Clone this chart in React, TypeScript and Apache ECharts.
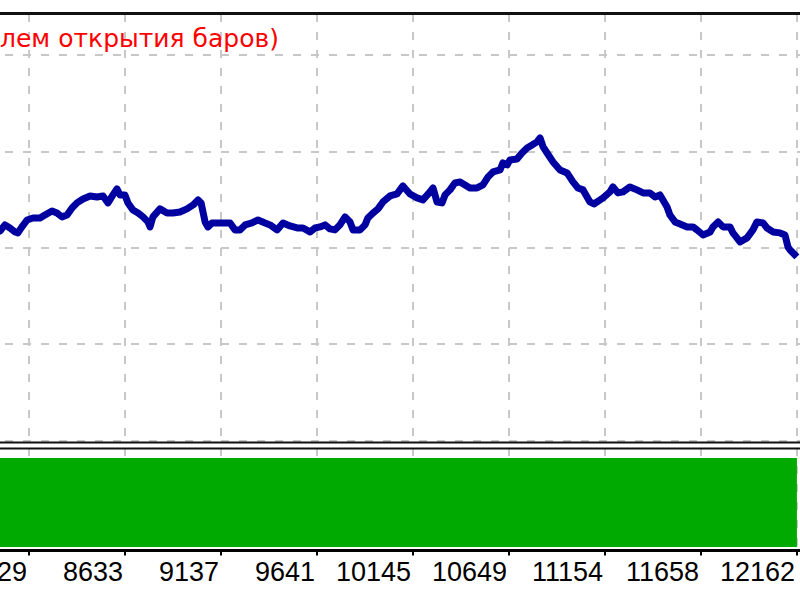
import React, { useEffect, useRef } from 'react';
import * as echarts from 'echarts';

// Trade numbers (x) and balance (y) of the test curve
const trades = [
  7951, 7977, 8003, 8029, 8056, 8071, 8092, 8119, 8150, 8187, 8213, 8250, 8276, 8302, 8329, 8355,
  8381, 8413, 8450, 8486, 8518, 8544, 8570, 8591, 8607, 8633, 8649, 8675, 8702, 8728, 8754, 8765,
  8780, 8817, 8854, 8885, 8922, 8959, 8991, 9017, 9033, 9054, 9069, 9090, 9132, 9185, 9211, 9237,
  9264, 9300, 9332, 9369, 9395, 9432, 9463, 9500, 9537, 9568, 9605, 9631, 9657, 9684, 9710, 9736,
  9762, 9789, 9815, 9831, 9868, 9894, 9909, 9936, 9962, 9988, 10025, 10062, 10093, 10130, 10167, 10198,
  10235, 10251, 10272, 10298, 10314, 10340, 10366, 10393, 10419, 10445, 10482, 10513, 10540, 10566, 10603, 10618,
  10640, 10655, 10692, 10718, 10745, 10771, 10797, 10813, 10829, 10850, 10881, 10918, 10955, 10986, 11012, 11039,
  11075, 11096, 11144, 11180, 11196, 11222, 11249, 11285, 11322, 11354, 11390, 11417, 11443, 11480, 11495, 11522,
  11548, 11585, 11616, 11637, 11669, 11706, 11721, 11748, 11774, 11811, 11826, 11847, 11863, 11900, 11931, 11952,
  11984, 12005, 12036, 12073, 12099, 12115, 12126, 12152, 12162,
];
const balance = [
  6154, 6174, 6237, 6205, 6164, 6154, 6216, 6288, 6309, 6309, 6340, 6382, 6361, 6320, 6340, 6413,
  6465, 6506, 6537, 6527, 6537, 6465, 6548, 6610, 6548, 6548, 6465, 6392, 6361, 6320, 6268, 6216,
  6320, 6403, 6361, 6361, 6371, 6403, 6444, 6496, 6465, 6268, 6216, 6257, 6257, 6257, 6185, 6185,
  6237, 6257, 6288, 6257, 6237, 6185, 6257, 6226, 6205, 6205, 6164, 6205, 6216, 6237, 6195, 6185,
  6237, 6320, 6268, 6185, 6185, 6237, 6309, 6361, 6403, 6475, 6537, 6558, 6641, 6558, 6517, 6496,
  6579, 6620, 6475, 6465, 6548, 6600, 6672, 6683, 6652, 6620, 6620, 6652, 6735, 6786, 6807, 6880,
  6859, 6911, 6921, 6983, 7035, 7066, 7098, 7139, 7046, 6983, 6890, 6807, 6776, 6683, 6620, 6600,
  6475, 6454, 6517, 6579, 6631, 6569, 6579, 6631, 6600, 6569, 6569, 6527, 6548, 6423, 6340, 6268,
  6247, 6216, 6216, 6185, 6133, 6164, 6216, 6268, 6216, 6216, 6154, 6102, 6060, 6102, 6185, 6268,
  6257, 6205, 6164, 6154, 6133, 6008, 5977, 5925, 5905,
];

// Lot size sub-window
const lotTrades = [7625, 12162];
const lotSizes = [0.1, 0.1];

// Axis ticks
const xStart = 7625.05;
const xStep = 504.15;
const xEnd = 12666.55;
const yMin = 4000;
const yMax = 8425;
const yStep = 1000;

const titleText = 'лем открытия баров)';

export default function App() {
  const ref = useRef<HTMLDivElement>(null);

  useEffect(() => {
    const chart = echarts.init(ref.current as HTMLDivElement, null, { renderer: 'svg' });
    const dash = { color: '#c8c8c8', width: 2, type: [8, 10] as number[] };
    const line = trades.map((t, i) => [t, balance[i]]);
    const lots = lotTrades.map((t, i) => [t, lotSizes[i]]);

    chart.setOption({
      animation: false,
      backgroundColor: '#ffffff',
      grid: [
        { left: 0, right: 0, top: 14, bottom: 159.5, outerBoundsMode: 'none', containLabel: false },
        { left: 0, right: 0, top: 448, bottom: 49.5, outerBoundsMode: 'none', containLabel: false },
      ],
      xAxis: [
        {
          type: 'value', gridIndex: 0, min: xStart, max: xEnd, interval: xStep,
          axisLine: { show: false }, axisTick: { show: false }, axisLabel: { show: false },
          splitLine: { show: true, lineStyle: dash },
        },
        {
          type: 'value', gridIndex: 1, min: xStart, max: xEnd, interval: xStep,
          axisLine: { show: true, onZero: false, lineStyle: { color: '#000', width: 3 } },
          axisTick: { show: true, length: 5, lineStyle: { color: '#000', width: 2 } },
          axisLabel: {
            show: true, showMinLabel: false, showMaxLabel: false,
            align: 'right', margin: 8, padding: [0, 2, 0, 0],
            color: '#000', fontSize: 27, fontFamily: 'Liberation Sans',
            formatter: (v: number) => String(Math.floor(v + 1e-6)),
          },
          splitLine: { show: true, lineStyle: dash },
        },
      ],
      yAxis: [
        {
          type: 'value', gridIndex: 0, min: yMin, max: yMax, interval: yStep,
          axisLine: { show: false }, axisTick: { show: false }, axisLabel: { show: false },
          splitLine: { show: true, lineStyle: dash },
        },
        {
          type: 'value', gridIndex: 1, min: -0.00393, max: 0.11124,
          axisLine: { show: false }, axisTick: { show: false }, axisLabel: { show: false },
          splitLine: { show: false },
        },
      ],
      series: [
        {
          type: 'line', xAxisIndex: 1, yAxisIndex: 1, data: lots, symbol: 'none',
          lineStyle: { width: 0, color: '#00aa00' },
          areaStyle: { color: '#00aa00', opacity: 1 },
          silent: true,
        },
        {
          type: 'line', xAxisIndex: 0, yAxisIndex: 0, data: line, symbol: 'none',
          lineStyle: { width: 7, color: '#0000a0', join: 'round' },
          silent: true,
        },
      ],
      graphic: [
        { type: 'rect', shape: { x: 0, y: 12, width: 960, height: 3 }, style: { fill: '#111' }, z: 100 },
        { type: 'rect', shape: { x: 0, y: 441.5, width: 960, height: 2 }, style: { fill: '#111' }, z: 100 },
        { type: 'rect', shape: { x: 0, y: 447.5, width: 960, height: 2 }, style: { fill: '#111' }, z: 100 },
        {
          type: 'text', x: 67, y: 38, z: 100,
          style: {
            text: titleText, fill: '#ff0000', fontSize: 25, fontFamily: 'DejaVu Sans',
            align: 'left', verticalAlign: 'middle',
          },
        },
      ],
    });
    return () => chart.dispose();
  }, []);

  return (
    <div style={{ position: 'fixed', left: 0, top: 0, width: 800, height: 600, overflow: 'hidden', background: '#fff' }}>
      <div ref={ref} style={{ position: 'absolute', left: -67, top: 0, width: 960, height: 600 }} />
    </div>
  );
}
